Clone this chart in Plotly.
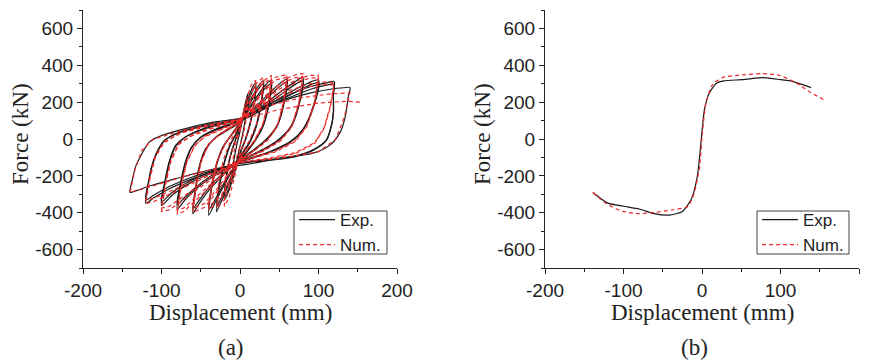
import plotly.graph_objects as go

# ---------------- Panel (a): hysteresis loops (displacement mm, force kN) ----------------
# Experimental loops (first and repeated cycle at each displacement amplitude)
exp_d10 = [0, 5, 10, 8, 4, 0, -5, -10, -8, -4, 0]
exp_f10 = [40, 160, 247, 150, 40, -40, -130, -200, -120, -30, 40]
exp_d20 = [0, 8, 16, 20, 18, 13, 7, 0, -8, -16, -20, -18, -13, -6, 0]
exp_f20 = [60, 190, 280, 305, 200, 90, 0, -75, -200, -300, -330, -230, -110, -10, 60]
exp_f20b = [55, 170, 260, 290, 190, 80, -5, -80, -190, -285, -315, -220, -100, -5, 55]
exp_d30 = [0, 12, 24, 30, 27, 21, 13, 4, 0, -12, -24, -30, -27, -21, -13, -5, 0]
exp_f30 = [80, 200, 290, 315, 200, 80, -10, -70, -95, -220, -340, -395, -280, -150, -40, 30, 80]
exp_f30b = [70, 185, 275, 300, 190, 70, -15, -75, -100, -210, -320, -370, -265, -140, -35, 25, 70]
exp_d40 = [0, 15, 30, 40, 37, 30, 20, 8, 0, -15, -30, -40, -37, -31, -22, -10, 0]
exp_f40 = [90, 190, 280, 320, 200, 80, 0, -70, -105, -210, -330, -413, -290, -160, -50, 30, 90]
exp_f40b = [85, 180, 265, 300, 190, 75, -5, -75, -110, -200, -315, -385, -275, -150, -45, 25, 85]
exp_d60 = [0, 20, 40, 55, 60, 56, 48, 36, 20, 5, 0, -20, -40, -55, -60, -57, -52, -44, -32, -15, 0]
exp_f60 = [95, 175, 260, 315, 325, 200, 80, 10, -50, -95, -110, -190, -280, -370, -405, -290, -160, -60, 5, 55, 95]
exp_f60b = [90, 165, 245, 300, 310, 190, 75, 5, -55, -100, -115, -180, -265, -350, -380, -275, -150, -55, 5, 50, 90]
exp_d80 = [0, 25, 50, 70, 80, 75, 65, 50, 30, 10, 0, -25, -50, -70, -80, -76, -70, -62, -50, -30, -10, 0]
exp_f80 = [100, 170, 250, 310, 333, 190, 70, 0, -55, -95, -115, -180, -250, -330, -380, -260, -140, -50, 10, 55, 85, 100]
exp_f80b = [95, 160, 235, 295, 315, 180, 65, -5, -60, -100, -120, -170, -240, -315, -355, -245, -130, -45, 10, 50, 80, 95]
exp_d100 = [0, 30, 60, 85, 100, 93, 81, 64, 38, 13, 0, -30, -60, -85, -100, -96, -90, -82, -70, -45, -20, 0]
exp_f100 = [105, 170, 245, 300, 320, 175, 58, -14, -68, -104, -122, -175, -230, -300, -360, -250, -130, -40, 10, 60, 90, 105]
exp_f100b = [100, 160, 230, 285, 305, 165, 55, -18, -72, -108, -125, -168, -220, -285, -340, -235, -120, -35, 10, 55, 85, 100]
exp_d120 = [0, 30, 60, 90, 110, 120, 119, 119, 117, 110, 93, 68, 34, 0, -30, -60, -90, -110, -120,
            -117, -112, -104, -95, -75, -40, 0]
exp_f120 = [110, 175, 235, 285, 305, 312, 250, 150, 85, -5, -59, -95, -113, -130, -170, -215, -270, -320, -348,
            -250, -150, -60, -5, 40, 80, 110]
exp_f120b = [105, 165, 220, 270, 292, 298, 240, 145, 80, -8, -62, -98, -117, -133, -165, -205, -258, -305, -330,
             -240, -140, -55, -3, 38, 75, 105]
exp_d140 = [0, 30, 60, 90, 115, 132, 140, 138, 134, 128, 115, 93, 51, 9, -30, -60, -90, -115, -132, -140,
            -137, -133, -127, -115, -98, -68, -30, 0]
exp_f140 = [112, 170, 215, 250, 270, 278, 279, 230, 120, 40, -32, -77, -103, -138, -160, -190, -225, -255, -280, -290,
            -220, -150, -96, -14, 22, 58, 94, 112]

# Numerical loops
num_d10 = [0, 5, 10, 8, 4, 0, -5, -10, -8, -4, 0]
num_f10 = [40, 150, 200, 110, 20, -40, -110, -150, -80, 0, 40]
num_d20 = [0, 7, 14, 20, 18, 13, 6, 0, -7, -14, -20, -18, -13, -6, 0]
num_f20 = [60, 200, 290, 320, 200, 80, -10, -70, -210, -320, -366, -230, -100, 0, 60]
num_d30 = [0, 10, 20, 30, 27, 21, 12, 0, -10, -20, -30, -27, -21, -12, 0]
num_f30 = [80, 210, 300, 335, 210, 80, -10, -90, -220, -330, -375, -240, -110, -10, 80]
num_d40 = [0, 12, 25, 40, 36, 29, 18, 6, 0, -12, -25, -40, -36, -29, -18, -8, 0]
num_f40 = [90, 200, 300, 345, 210, 80, -10, -70, -100, -220, -330, -384, -250, -120, -20, 40, 90]
num_f40b = [85, 190, 285, 330, 200, 75, -15, -75, -105, -210, -315, -365, -240, -115, -15, 35, 85]
num_d60 = [0, 15, 30, 45, 60, 56, 48, 36, 18, 0, -15, -30, -45, -60, -56, -50, -40, -25, 0]
num_f60 = [95, 185, 270, 335, 350, 210, 80, 0, -60, -108, -200, -290, -370, -398, -260, -130, -30, 30, 95]
num_f60b = [90, 175, 255, 320, 335, 200, 75, -5, -65, -112, -190, -275, -350, -378, -250, -125, -25, 28, 90]
num_d80 = [0, 20, 40, 60, 72, 80, 75, 66, 52, 30, 10, 0, -20, -40, -60, -72, -80, -75, -68, -58, -45, -22, 0]
num_f80 = [100, 180, 265, 330, 350, 355, 200, 70, -5, -60, -95, -112, -190, -270, -350, -395, -405,
           -260, -130, -40, 15, 60, 100]
num_f80b = [95, 170, 250, 315, 335, 340, 190, 65, -10, -65, -100, -116, -180, -255, -330, -375, -385,
            -250, -125, -35, 12, 55, 95]
num_d100 = [0, 25, 50, 75, 90, 100, 95, 85, 70, 45, 15, 0, -25, -50, -75, -90, -100, -95, -88, -78, -60, -30, 0]
num_f100 = [105, 190, 270, 330, 345, 346, 200, 70, -10, -65, -100, -118, -185, -260, -340, -385, -393,
            -250, -120, -30, 25, 70, 105]
num_f100b = [100, 180, 255, 315, 330, 332, 190, 65, -15, -70, -105, -122, -175, -245, -320, -365, -375,
             -240, -115, -25, 20, 65, 100]
num_d120 = [0, 30, 60, 90, 110, 120, 115, 107, 95, 70, 35, 0, -30, -60, -90, -110, -120, -115, -108, -97, -75, -40, 0]
num_f120 = [110, 190, 260, 300, 310, 305, 180, 60, -20, -75, -105, -125, -180, -240, -300, -340, -350,
            -220, -100, -20, 35, 75, 110]
num_f120b = [105, 180, 245, 285, 295, 292, 170, 55, -25, -80, -110, -128, -172, -228, -285, -322, -333,
             -210, -95, -15, 32, 70, 105]
num_d140 = [0, 40, 80, 115, 140, 133, 122, 100, 50, 0, -40, -80, -115, -140, -134, -125, -110, -70, -30, 0,
            50, 100, 136, 155]
num_f140 = [105, 185, 225, 245, 250, 120, 0, -70, -105, -125, -170, -215, -260, -290, -170, -60, 0, 50, 85, 105,
            160, 195, 205, 200]

# ---------------- Panel (b): skeleton (envelope) curves ----------------
exp_skel_d = [-139, -120, -100, -80, -61, -42, -25, -14, -6, -1, 3, 9, 18, 28, 50, 79, 100, 115, 139]
exp_skel_f = [-290, -348, -365, -380, -405, -413, -393, -330, -204, -5, 157, 247, 301, 315, 322, 333, 322, 313, 279]
num_skel_d = [-139, -122, -101, -80, -59, -37, -18, -10, -3, 0, 5, 13, 26, 52, 77, 98, 118, 137, 158]
num_skel_f = [-290, -350, -393, -405, -398, -384, -366, -294, -150, 10, 193, 292, 333, 348, 355, 346, 310, 256, 207]

x_ticks = [-200, -100, 0, 100, 200]
y_ticks = [-600, -400, -200, 0, 200, 400, 600]


def join(parts):
    out = []
    for i, p in enumerate(parts):
        if i:
            out.append(None)
        out.extend(p)
    return out


exp_disp = join([exp_d10, exp_d20, exp_d20, exp_d30, exp_d30, exp_d40, exp_d40, exp_d60, exp_d60,
                 exp_d80, exp_d80, exp_d100, exp_d100, exp_d120, exp_d120, exp_d140])
exp_force = join([exp_f10, exp_f20, exp_f20b, exp_f30, exp_f30b, exp_f40, exp_f40b, exp_f60, exp_f60b,
                  exp_f80, exp_f80b, exp_f100, exp_f100b, exp_f120, exp_f120b, exp_f140])
num_disp = join([num_d10, num_d20, num_d30, num_d40, num_d40, num_d60, num_d60, num_d80, num_d80,
                 num_d100, num_d100, num_d120, num_d120, num_d140])
num_force = join([num_f10, num_f20, num_f30, num_f40, num_f40b, num_f60, num_f60b, num_f80, num_f80b,
                  num_f100, num_f100b, num_f120, num_f120b, num_f140])

BLACK = "#1a1a1a"
RED = "#ee2a2a"
DASH = "4px,3px"

fig = go.Figure()
fig.add_trace(go.Scatter(x=exp_disp, y=exp_force, mode="lines", name="Exp.",
                         line=dict(color=BLACK, width=1.2, shape="spline", smoothing=0.8),
                         xaxis="x", yaxis="y", legend="legend", connectgaps=False))
fig.add_trace(go.Scatter(x=num_disp, y=num_force, mode="lines", name="Num.",
                         line=dict(color=RED, width=1.2, dash=DASH),
                         xaxis="x", yaxis="y", legend="legend", connectgaps=False))
fig.add_trace(go.Scatter(x=exp_skel_d, y=exp_skel_f, mode="lines", name="Exp.",
                         line=dict(color=BLACK, width=1.2, shape="spline", smoothing=0.6),
                         xaxis="x2", yaxis="y2", legend="legend2"))
fig.add_trace(go.Scatter(x=num_skel_d, y=num_skel_f, mode="lines", name="Num.",
                         line=dict(color=RED, width=1.2, dash=DASH, shape="spline", smoothing=0.6),
                         xaxis="x2", yaxis="y2", legend="legend2"))

W, H = 873, 361
TICKFONT = dict(family="Liberation Sans, Arial, sans-serif", size=19, color="#222")


def xaxis_cfg(domain, anchor):
    return dict(domain=domain, anchor=anchor, range=[-200, 200], tickvals=x_ticks,
                ticktext=[str(v) for v in x_ticks], showline=True, linecolor="#222", linewidth=1,
                ticks="outside", ticklen=5, tickcolor="#222", tickfont=TICKFONT, showgrid=False,
                zeroline=False, automargin=False,
                minor=dict(dtick=50, ticks="outside", ticklen=3, tickcolor="#222", showgrid=False))


def yaxis_cfg(anchor):
    return dict(domain=[1 - 268 / H, 1 - 10 / H], anchor=anchor, range=[-700, 700], tickvals=y_ticks,
                ticktext=[str(v) for v in y_ticks], showline=True, linecolor="#222", linewidth=1,
                ticks="outside", ticklen=5, tickcolor="#222", tickfont=TICKFONT, showgrid=False,
                zeroline=False, automargin=False,
                minor=dict(dtick=100, ticks="outside", ticklen=3, tickcolor="#222", showgrid=False))


LEGFONT = dict(family="Liberation Sans, Arial, sans-serif", size=17, color="#222")
TITLEFONT = dict(family="Liberation Serif, Times New Roman, serif", size=23, color="#222")

# legend frames drawn to the reference box size
legend_frames = [
    dict(type="rect", xref="paper", yref="paper", x0=294 / W, x1=387 / W, y0=1 - 254 / H, y1=1 - 211 / H,
         line=dict(color="#444", width=1), fillcolor="rgba(0,0,0,0)", layer="above"),
    dict(type="rect", xref="paper", yref="paper", x0=757 / W, x1=849 / W, y0=1 - 254 / H, y1=1 - 211 / H,
         line=dict(color="#444", width=1), fillcolor="rgba(0,0,0,0)", layer="above"),
]

fig.update_layout(
    width=W, height=H, margin=dict(l=0, r=0, t=0, b=0, autoexpand=False),
    paper_bgcolor="white", plot_bgcolor="white",
    xaxis=xaxis_cfg([83 / W, 397 / W], "y"),
    yaxis=yaxis_cfg("x"),
    xaxis2=xaxis_cfg([545 / W, 859 / W], "y2"),
    yaxis2=yaxis_cfg("x2"),
    legend=dict(x=294 / W, y=1 - 232.5 / H, xanchor="left", yanchor="middle", borderwidth=0,
                bgcolor="rgba(0,0,0,0)", font=LEGFONT, tracegroupgap=0, itemwidth=36),
    legend2=dict(x=757 / W, y=1 - 232.5 / H, xanchor="left", yanchor="middle", borderwidth=0,
                 bgcolor="rgba(0,0,0,0)", font=LEGFONT, tracegroupgap=0, itemwidth=36),
    showlegend=True,
    shapes=legend_frames,
    annotations=[
        dict(text="Displacement (mm)", x=240 / W, y=1 - 312 / H, xref="paper", yref="paper",
             showarrow=False, font=TITLEFONT, xanchor="center", yanchor="middle"),
        dict(text="Displacement (mm)", x=702 / W, y=1 - 312 / H, xref="paper", yref="paper",
             showarrow=False, font=TITLEFONT, xanchor="center", yanchor="middle"),
        dict(text="Force (kN)", x=20 / W, y=1 - 134 / H, xref="paper", yref="paper", textangle=-90,
             showarrow=False, font=TITLEFONT, xanchor="center", yanchor="middle"),
        dict(text="Force (kN)", x=482 / W, y=1 - 134 / H, xref="paper", yref="paper", textangle=-90,
             showarrow=False, font=TITLEFONT, xanchor="center", yanchor="middle"),
        dict(text="(a)", x=231 / W, y=1 - 347 / H, xref="paper", yref="paper",
             showarrow=False, font=TITLEFONT, xanchor="center", yanchor="middle"),
        dict(text="(b)", x=694 / W, y=1 - 347 / H, xref="paper", yref="paper",
             showarrow=False, font=TITLEFONT, xanchor="center", yanchor="middle"),
    ],
)

fig.write_html("out.html", config={"displayModeBar": False},
               post_script="document.body.style.margin='0px';")
